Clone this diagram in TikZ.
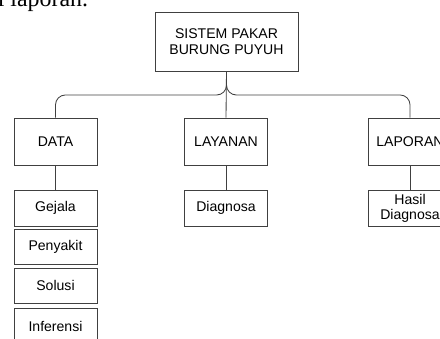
\documentclass[tikz,border=0pt]{standalone}
\usepackage{fontspec}
\setmainfont{Liberation Sans}
\newfontfamily\serifpage{Liberation Serif}

\begin{document}
\begin{tikzpicture}
    [x=0.025cm,y=-0.025cm,
     every node/.style={draw=black!75,line width=0.6pt,fill=white,align=center,
       font=\fontsize{10}{11}\selectfont,inner sep=1pt},
     unit/.style={minimum width=2.075cm,minimum height=1.175cm},
     sub/.style={minimum width=2.075cm,minimum height=0.9cm}]
    \useasboundingbox (0,0) rectangle (440,339);
    \node[draw=none,fill=none,font=\serifpage\fontsize{17}{17}\selectfont,anchor=base west] (frag) at (-4,7) {l laporan.};
    \node[minimum width=3.575cm,minimum height=1.475cm] (root) at (226.5,41.5) {SISTEM PAKAR\\BURUNG PUYUH};
    \node[unit] (data) at (55.5,141.5) {DATA};
    \node[unit] (layanan) at (226,141.5) {LAYANAN};
    \node[unit] (laporan) at (410,141.5) {LAPORAN};
    \node[sub] (gejala) at (55.5,208) {Gejala};
    \node[sub,minimum height=0.875cm] (penyakit) at (55.5,246.5) {Penyakit};
    \node[sub,minimum height=0.875cm] (solusi) at (55.5,285.5) {Solusi};
    \node[sub] (inferensi) at (55.5,326) {Inferensi};
    \node[sub] (diagnosa) at (226,208) {Diagnosa};
    \node[sub,font=\fontsize{10}{10.5}\selectfont] (hasil) at (410,208) {Hasil\\Diagnosa};
    \coordinate (bus) at (226.5,95);
    \draw[black!75,line width=0.6pt,rounded corners=7pt] (root.south) -- (bus) -- (bus -| data.north) -- (data.north);
    \draw[black!75,line width=0.6pt,rounded corners=7pt] (root.south) -- (bus) -- (bus -| laporan.north) -- (laporan.north);
    \draw[black!75,line width=0.6pt] (root.south) -- (layanan.north);
    \draw[black!75,line width=0.6pt] (data) -- (gejala);
    \draw[black!75,line width=0.6pt] (layanan) -- (diagnosa);
    \draw[black!75,line width=0.6pt] (laporan) -- (hasil);
\end{tikzpicture}
\end{document}
